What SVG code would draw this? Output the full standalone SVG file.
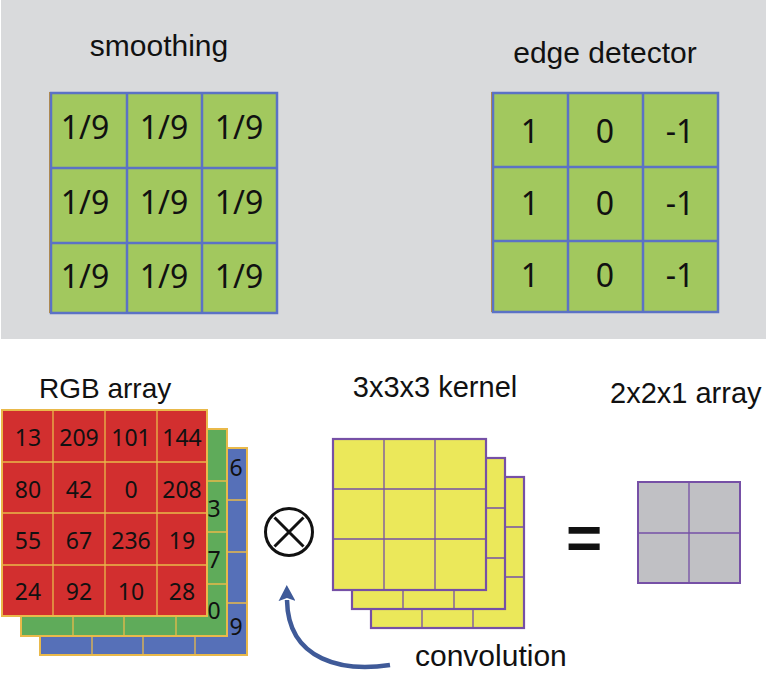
<svg xmlns="http://www.w3.org/2000/svg" width="766" height="674" viewBox="0 0 766 674">
<defs>
<style>
.lbl{font-family:"Liberation Sans",Arial,sans-serif;fill:#111;}
.num{font-family:"Noto Sans","Liberation Sans",sans-serif;fill:#111;text-anchor:middle;}
.topcell{fill:#a2c85e;stroke:#5b72c5;stroke-width:2.5;}
.topline{stroke:#5b72c5;stroke-width:2.5;fill:none;}
.rgbline{stroke:#e9b94a;stroke-width:1.3;fill:none;}
.rgbout{stroke:#e9b94a;stroke-width:2;}
.kout{fill:#ebe85a;stroke:#7650a6;stroke-width:2.2;}
.kline{stroke:#7650a6;stroke-width:1.3;fill:none;}
</style>
<marker id="ah" markerUnits="userSpaceOnUse" markerWidth="16" markerHeight="17" viewBox="0 0 16 17" refX="1" refY="8.5" orient="auto">
<path d="M0,0 L16,8.5 L0,17 L3,8.5 z" fill="#3f5a98"/>
</marker>
</defs>

<rect x="1" y="0" width="765" height="339" fill="#d9dadc"/>

<g id="smoothing">
<text class="lbl" x="159" y="56" font-size="30" text-anchor="middle">smoothing</text>
<rect x="49" y="92" width="227" height="221" fill="#c8902c"/>
<rect class="topcell" x="51" y="93" width="226" height="220"/>
<path class="topline" d="M127,93V313M202,93V313M51,168H277M51,243H277"/>
<g class="num" font-size="32">
<text x="85" y="139">1/9</text><text x="164" y="139">1/9</text><text x="239" y="139">1/9</text>
<text x="85" y="214">1/9</text><text x="164" y="214">1/9</text><text x="239" y="214">1/9</text>
<text x="85" y="288">1/9</text><text x="164" y="288">1/9</text><text x="239" y="288">1/9</text>
</g>
</g>

<g id="edge-detector">
<text class="lbl" x="605" y="63" font-size="30" text-anchor="middle">edge detector</text>
<rect x="491" y="92" width="227" height="220" fill="#c8902c"/>
<rect class="topcell" x="493" y="93" width="225" height="219"/>
<path class="topline" d="M568,93V312M643,93V312M493,167H718M493,241H718"/>
<g class="num" font-size="32">
<text x="530" y="143">1</text><text x="605" y="143">0</text><text x="680" y="143">-1</text>
<text x="530" y="215">1</text><text x="605" y="215">0</text><text x="680" y="215">-1</text>
<text x="530" y="287">1</text><text x="605" y="287">0</text><text x="680" y="287">-1</text>
</g>
</g>

<g id="rgb-array">
<text class="lbl" x="39" y="398" font-size="28">RGB array</text>
<g id="blue-layer">
<rect class="rgbout" x="40" y="448" width="207" height="207" fill="#5670b8"/>
<path class="rgbline" d="M92,448V655M143,448V655M195,448V655M40,500H247M40,552H247M40,603H247"/>
<g class="num" font-size="23"><text x="236" y="476">6</text><text x="236" y="635">9</text></g>
</g>
<g id="green-layer">
<rect class="rgbout" x="21" y="429" width="206" height="207" fill="#5fab5a"/>
<path class="rgbline" d="M73,429V636M124,429V636M176,429V636M21,481H227M21,532H227M21,584H227"/>
<g class="num" font-size="23"><text x="214" y="517">3</text><text x="214" y="568">7</text><text x="214" y="619">0</text></g>
</g>
<g id="red-layer">
<rect class="rgbout" x="2" y="410" width="205" height="206" fill="#d22f2f"/>
<path class="rgbline" d="M53,410V616M105,410V616M157,410V616M2,462H207M2,513H207M2,565H207"/>
<g class="num" font-size="23">
<text x="28" y="446">13</text><text x="79" y="446">209</text><text x="131" y="446">101</text><text x="182" y="446">144</text>
<text x="28" y="498">80</text><text x="79" y="498">42</text><text x="131" y="498">0</text><text x="182" y="498">208</text>
<text x="28" y="549">55</text><text x="79" y="549">67</text><text x="131" y="549">236</text><text x="182" y="549">19</text>
<text x="28" y="600">24</text><text x="79" y="600">92</text><text x="131" y="600">10</text><text x="182" y="600">28</text>
</g>
</g>
</g>

<g id="operator-conv">
<circle cx="289" cy="532" r="23.5" fill="none" stroke="#111" stroke-width="3"/>
<path d="M274.5,517.5L303.5,546.5M303.5,517.5L274.5,546.5" stroke="#111" stroke-width="3" fill="none"/>
</g>

<g id="kernel">
<text class="lbl" x="435" y="397" font-size="29" text-anchor="middle">3x3x3 kernel</text>
<g transform="translate(38,38)">
<rect class="kout" x="333" y="439" width="153" height="151"/>
<path class="kline" d="M384,439V590M435,439V590M333,489H486M333,539H486"/>
</g>
<g transform="translate(19,19)">
<rect class="kout" x="333" y="439" width="153" height="151"/>
<path class="kline" d="M384,439V590M435,439V590M333,489H486M333,539H486"/>
</g>
<rect class="kout" x="333" y="439" width="153" height="151"/>
<path class="kline" d="M384,439V590M435,439V590M333,489H486M333,539H486"/>
</g>

<g id="operator-eq">
<text class="lbl" x="584" y="559" font-size="62" font-weight="bold" text-anchor="middle">=</text>
</g>

<g id="output-array">
<text class="lbl" x="610" y="403" font-size="29">2x2x1 array</text>
<rect x="638" y="482" width="102" height="101" fill="#c0c0c4" stroke="#7650a6" stroke-width="2"/>
<path d="M689,482V583M638,533H740" stroke="#7650a6" stroke-width="1.3" fill="none"/>
</g>

<g id="connectors">
<path d="M390,665 C345,672 288,662 287,600" fill="none" stroke="#3f5a98" stroke-width="4.5" marker-end="url(#ah)"/>
</g>
<text class="lbl" x="415" y="666" font-size="30">convolution</text>
</svg>
